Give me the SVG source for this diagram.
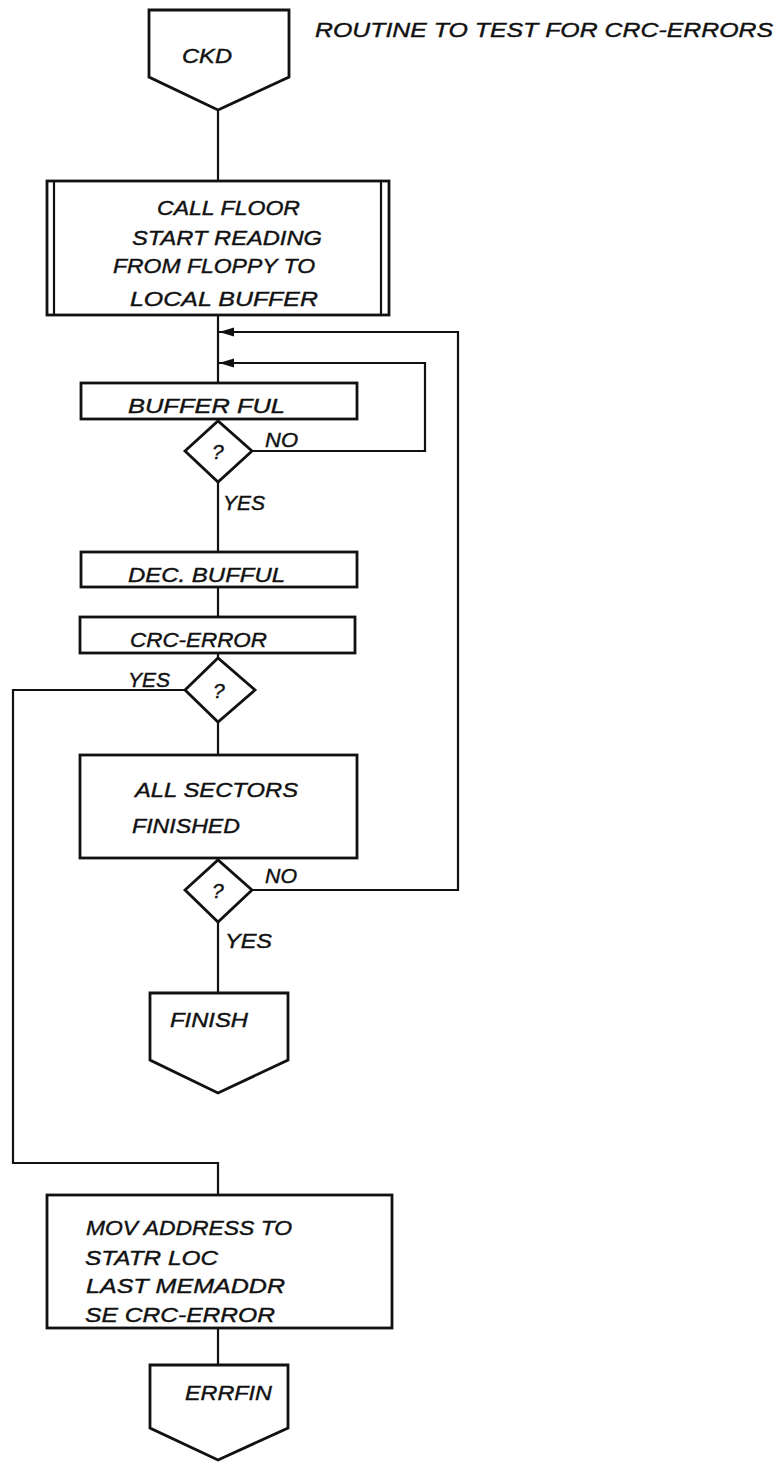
<svg xmlns="http://www.w3.org/2000/svg" width="784" height="1462" viewBox="0 0 784 1462">
<style>
.s{fill:none;stroke:#111;stroke-width:2.8;stroke-linejoin:miter}
.c{fill:none;stroke:#111;stroke-width:2.2}
text{font-family:"Liberation Sans",Arial,sans-serif;font-style:italic;font-size:21px;fill:#111;stroke:#111;stroke-width:0.4}
.q{font-size:21px}
</style>
<defs>
<marker id="ah" markerWidth="16" markerHeight="12" refX="15" refY="6" orient="auto" markerUnits="userSpaceOnUse">
<path d="M0,1.5 L15,6 L0,10.5 Z" fill="#111"/>
</marker>
</defs>
<rect width="784" height="1462" fill="#fff"/>
<text x="315" y="37" textLength="458" lengthAdjust="spacingAndGlyphs">ROUTINE TO TEST FOR CRC-ERRORS</text>
<g id="connectors">
<path class="c" d="M218,110 V181"/>
<path class="c" d="M218,315 V383"/>
<path class="c" d="M252,451 H425 V363 H219" marker-end="url(#ah)"/>
<path class="c" d="M218,482 V552"/>
<path class="c" d="M218,587 V617"/>
<path class="c" d="M218,653 V658"/>
<path class="c" d="M185,690 H13 V1163 H218 V1195"/>
<path class="c" d="M218,722 V755"/>
<path class="c" d="M218,858 V860"/>
<path class="c" d="M252,890 H458 V332 H219" marker-end="url(#ah)"/>
<path class="c" d="M218,922 V993"/>
<path class="c" d="M218,1328 V1365"/>
<text x="265" y="447" textLength="33" lengthAdjust="spacingAndGlyphs">NO</text>
<text x="223" y="510" textLength="42" lengthAdjust="spacingAndGlyphs">YES</text>
<text x="128" y="687" textLength="42" lengthAdjust="spacingAndGlyphs">YES</text>
<text x="265" y="883" textLength="32" lengthAdjust="spacingAndGlyphs">NO</text>
<text x="225" y="948" textLength="47" lengthAdjust="spacingAndGlyphs">YES</text>
</g>
<g id="ckd">
<path class="s" d="M149,10 H289 V77 L218,110 L149,77 Z"/>
<text x="182" y="63" textLength="50" lengthAdjust="spacingAndGlyphs">CKD</text>
</g>
<g id="callfloor">
<rect class="s" x="47" y="181" width="342" height="134"/>
<path class="c" d="M54,181 V315 M381,181 V315"/>
<text x="157" y="215" textLength="143" lengthAdjust="spacingAndGlyphs">CALL FLOOR</text>
<text x="132" y="245" textLength="190" lengthAdjust="spacingAndGlyphs">START READING</text>
<text x="113" y="273" textLength="202" lengthAdjust="spacingAndGlyphs">FROM FLOPPY TO</text>
<text x="130" y="306" textLength="188" lengthAdjust="spacingAndGlyphs">LOCAL BUFFER</text>
</g>
<g id="bufferful">
<rect class="s" x="81" y="383" width="276" height="36"/>
<text x="128" y="413" textLength="157" lengthAdjust="spacingAndGlyphs">BUFFER FUL</text>
</g>
<g id="decision1">
<path class="s" d="M185,451 L218,421 L252,451 L218,482 Z"/>
<text class="q" x="212" y="459">?</text>
</g>
<g id="decbufful">
<rect class="s" x="81" y="552" width="276" height="35"/>
<text x="128" y="582" textLength="157" lengthAdjust="spacingAndGlyphs">DEC. BUFFUL</text>
</g>
<g id="crcerror">
<rect class="s" x="80" y="617" width="275" height="36"/>
<text x="130" y="647" textLength="137" lengthAdjust="spacingAndGlyphs">CRC-ERROR</text>
</g>
<g id="decision2">
<path class="s" d="M185,690 L218,658 L255,690 L218,722 Z"/>
<text class="q" x="213" y="698">?</text>
</g>
<g id="allsectors">
<rect class="s" x="80" y="755" width="277" height="103"/>
<text x="135" y="797" textLength="163" lengthAdjust="spacingAndGlyphs">ALL SECTORS</text>
<text x="132" y="833" textLength="108" lengthAdjust="spacingAndGlyphs">FINISHED</text>
</g>
<g id="decision3">
<path class="s" d="M185,890 L218,860 L252,890 L218,922 Z"/>
<text class="q" x="212" y="898">?</text>
</g>
<g id="finish">
<path class="s" d="M150,993 H288 V1060 L218,1093 L150,1060 Z"/>
<text x="170" y="1027" textLength="78" lengthAdjust="spacingAndGlyphs">FINISH</text>
</g>
<g id="movaddress">
<rect class="s" x="47" y="1195" width="345" height="133"/>
<text x="86" y="1235" textLength="206" lengthAdjust="spacingAndGlyphs">MOV ADDRESS TO</text>
<text x="85" y="1265" textLength="133" lengthAdjust="spacingAndGlyphs">STATR LOC</text>
<text x="86" y="1293" textLength="199" lengthAdjust="spacingAndGlyphs">LAST MEMADDR</text>
<text x="85" y="1322" textLength="190" lengthAdjust="spacingAndGlyphs">SE CRC-ERROR</text>
</g>
<g id="errfin">
<path class="s" d="M150,1365 H288 V1428 L218,1460 L150,1428 Z"/>
<text x="185" y="1400" textLength="87" lengthAdjust="spacingAndGlyphs">ERRFIN</text>
</g>
</svg>
